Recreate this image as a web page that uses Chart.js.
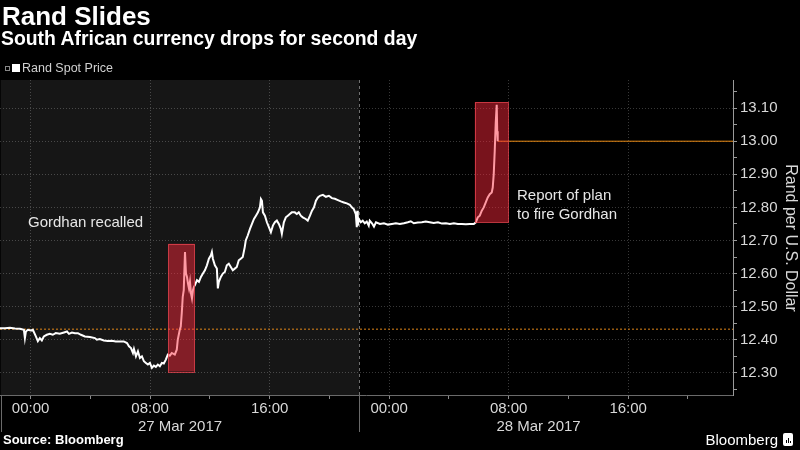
<!DOCTYPE html>
<html><head><meta charset="utf-8">
<script src="https://cdn.jsdelivr.net/npm/chart.js@4.4.1/dist/chart.umd.min.js"></script>
<style>
html,body{margin:0;padding:0;background:#000;width:800px;height:450px;overflow:hidden;}
#wrap{position:relative;width:800px;height:450px;}
canvas{position:absolute;left:0;top:0;}
.t{position:absolute;white-space:nowrap;font-family:'Liberation Sans',Arial,sans-serif;color:#fff;}
#title{left:2px;top:3px;font-size:26px;line-height:26px;font-weight:bold;}
#sub{left:1px;top:29px;font-size:19.4px;line-height:19px;font-weight:bold;}
#legend{left:5px;top:61px;font-size:12.5px;line-height:14px;color:#d0d0d0;}
#legend .ic{display:inline-block;width:3px;height:3px;border:1px solid #888;vertical-align:1px;margin-right:2px;}
#legend .sw{display:inline-block;width:8px;height:8px;background:#fff;vertical-align:0px;margin-right:2px;}
#src{left:3px;top:433px;font-size:13px;line-height:14px;font-weight:bold;}
#brand{right:22px;top:432px;font-size:15px;line-height:16px;}
#logo{position:absolute;left:783px;top:433px;width:10px;height:13px;background:#fff;border-radius:2px;}
#logo i{position:absolute;bottom:3px;width:1px;background:#000;}
</style></head>
<body><div id="wrap">
<canvas id="c" width="800" height="450"></canvas>
<div class="t" id="title">Rand Slides</div>
<div class="t" id="sub">South African currency drops for second day</div>
<div class="t" id="legend"><span class="ic"></span><span class="sw"></span>Rand Spot Price</div>
<div class="t" id="src">Source: Bloomberg</div>
<div class="t" id="brand">Bloomberg</div>
<div id="logo"><i style="left:3px;height:3px"></i><i style="left:5px;height:5px"></i><i style="left:7px;height:2px"></i></div>
</div>
<script>
// minutes since 27 Mar 2017 00:00 (chart's local time)
const minutes = [
 -123,-103,-83,-63,-43,-27,-23,-19,-11,1,
 9,21,29,37,45,53,65,77,89,101,
 117,134,146,154,166,178,190,202,218,238,
 258,266,278,294,310,326,342,358,374,387,
 395,403,411,415,423,431,439,447,455,463,
 471,479,487,495,503,511,519,527,535,543,
 551,559,567,579,587,591,599,603,607,611,
 615,620,624,628,632,636,640,644,648,652,
 656,660,668,676,684,692,700,708,716,724,
 728,732,740,748,752,756,764,772,780,788,
 796,804,812,820,828,836,844,852,860,864,
 872,881,889,897,905,913,921,925,929,933,
 941,949,957,965,973,981,989,997,1005,1009,
 1017,1025,1033,1041,1049,1061,1069,1077,1085,1093,
 1105,1113,1122,1130,1138,1146,1154,1162,1174,1186,
 1198,1210,1222,1234,1246,1258,1270,1282,1290,1298,
 1306,1310,1312,1314,1318,1326,1334,1342,1350,1358,
 1362,1371,1379,1387,1403,1419,1435,1451,1467,1483,
 1499,1515,1527,1539,1555,1571,1587,1603,1619,1636,
 1652,1668,1684,1700,1716,1732,1748,1764,1780,1788,
 1796,1804,1812,1820,1828,1836,1844,1852,1856,1860,
 1864,1868,1872,1874,1876
];
const rate = [
 12.435,12.435,12.436,12.434,12.433,12.430,12.405,12.425,12.430,12.428,
 12.430,12.410,12.396,12.405,12.398,12.410,12.415,12.418,12.415,12.420,
 12.418,12.422,12.425,12.418,12.422,12.420,12.420,12.415,12.410,12.408,
 12.405,12.400,12.402,12.398,12.396,12.397,12.395,12.395,12.395,12.390,
 12.380,12.375,12.360,12.372,12.350,12.365,12.345,12.350,12.335,12.330,
 12.325,12.330,12.315,12.322,12.318,12.325,12.320,12.330,12.328,12.340,
 12.355,12.352,12.360,12.355,12.370,12.400,12.430,12.440,12.480,12.530,
 12.550,12.665,12.600,12.590,12.570,12.555,12.575,12.540,12.525,12.550,
 12.560,12.565,12.580,12.575,12.590,12.600,12.610,12.625,12.645,12.655,
 12.665,12.645,12.625,12.615,12.555,12.575,12.590,12.600,12.605,12.625,
 12.630,12.620,12.610,12.615,12.620,12.640,12.645,12.650,12.680,12.700,
 12.715,12.735,12.750,12.765,12.775,12.785,12.800,12.825,12.820,12.785,
 12.775,12.755,12.740,12.725,12.745,12.755,12.760,12.750,12.735,12.720,
 12.755,12.770,12.775,12.780,12.785,12.785,12.780,12.785,12.775,12.770,
 12.765,12.760,12.775,12.790,12.800,12.820,12.830,12.835,12.838,12.832,
 12.835,12.828,12.826,12.822,12.818,12.815,12.812,12.808,12.800,12.795,
 12.780,12.740,12.790,12.745,12.765,12.755,12.760,12.752,12.757,12.745,
 12.760,12.752,12.742,12.755,12.750,12.752,12.748,12.750,12.752,12.750,
 12.752,12.755,12.758,12.752,12.754,12.755,12.757,12.755,12.753,12.755,
 12.751,12.752,12.750,12.752,12.750,12.750,12.749,12.750,12.750,12.755,
 12.770,12.775,12.790,12.800,12.815,12.830,12.840,12.845,12.860,12.900,
 12.970,13.055,13.110,13.030,13.000
];
const xTickMinutes = [0,240,480,720,960,1200,1440,1680,1920,2160,2400,2640];
const yTickValues = [12.25,12.30,12.35,12.40,12.45,12.50,12.55,12.60,12.65,12.70,12.75,12.80,12.85,12.90,12.95,13.00,13.05,13.10,13.15];
const dayStarts = [-120, 1320];
const dayEnds = [1320, 2760];
const dayLabels = ['27 Mar 2017', '28 Mar 2017'];
const lastPrice = 13.00;
const prevClose = 12.432;
const hlFrom = [553, 1784];
const hlTo = [659, 1918];
const hlLow = [12.304, 12.755];
const hlHigh = [12.690, 13.118];
const noteLines = [['Gordhan recalled'], ['Report of plan', 'to fire Gordhan']];

Chart.defaults.font.family = "'Liberation Sans', Arial, sans-serif";
Chart.defaults.font.size = 15;
Chart.defaults.color = '#d8d8d8';

const series = minutes.map((m, i) => ({x: m, y: rate[i]}));
const lastMin = minutes[minutes.length - 1];

const decor = {
  id: 'decor',
  beforeDraw(chart) {
    const {ctx, chartArea: a, scales: {x}} = chart;
    ctx.save();
    const x0 = Math.max(a.left, x.getPixelForValue(dayStarts[0]));
    const x1 = x.getPixelForValue(dayEnds[0]);
    ctx.fillStyle = '#161616';
    ctx.fillRect(x0, a.top, x1 - x0, a.bottom - a.top);
    ctx.restore();
  },
  beforeDatasetsDraw(chart) {
    const {ctx, chartArea: a, scales: {x}} = chart;
    ctx.save();
    ctx.lineWidth = 1;
    const xs = Math.round(x.getPixelForValue(dayStarts[1])) + 0.5;
    ctx.strokeStyle = '#707070';
    ctx.setLineDash([3, 3]);
    ctx.beginPath(); ctx.moveTo(xs, a.top); ctx.lineTo(xs, a.bottom); ctx.stroke();
    ctx.setLineDash([]);
    ctx.strokeStyle = '#6a6a6a';
    ctx.beginPath(); ctx.moveTo(xs, a.bottom); ctx.lineTo(xs, 432); ctx.stroke();
    const xl = Math.max(0.5, Math.round(x.getPixelForValue(dayStarts[0])) + 0.5);
    ctx.beginPath(); ctx.moveTo(xl, a.bottom); ctx.lineTo(xl, 432); ctx.stroke();
    ctx.strokeStyle = '#9a9a9a';
    ctx.beginPath(); ctx.moveTo(Math.round(a.right) + 0.5, a.top); ctx.lineTo(Math.round(a.right) + 0.5, a.bottom); ctx.stroke();
    ctx.strokeStyle = '#6a6a6a';
    ctx.beginPath(); ctx.moveTo(a.left, Math.round(a.bottom) - 0.5); ctx.lineTo(a.right, Math.round(a.bottom) - 0.5); ctx.stroke();
    ctx.restore();
  },
  afterDatasetsDraw(chart) {
    const {ctx, scales: {x, y}} = chart;
    ctx.save();
    for (let i = 0; i < hlFrom.length; i++) {
      const l = x.getPixelForValue(hlFrom[i]), r = x.getPixelForValue(hlTo[i]);
      const t = y.getPixelForValue(hlHigh[i]), b = y.getPixelForValue(hlLow[i]);
      ctx.fillStyle = 'rgba(255,40,60,0.47)';
      ctx.fillRect(l, t, r - l, b - t);
      ctx.strokeStyle = 'rgba(235,70,80,0.75)';
      ctx.lineWidth = 1;
      ctx.strokeRect(Math.round(l) + 0.5, Math.round(t) + 0.5, Math.round(r - l), Math.round(b - t));
    }
    ctx.restore();
  },
  afterDraw(chart) {
    const {ctx, scales: {x}} = chart;
    ctx.save();
    ctx.fillStyle = '#d8d8d8';
    ctx.font = "15px 'Liberation Sans', Arial, sans-serif";
    ctx.textAlign = 'center';
    ctx.textBaseline = 'middle';
    for (let i = 0; i < dayLabels.length; i++) {
      const c = (x.getPixelForValue(dayStarts[i]) + x.getPixelForValue(dayEnds[i])) / 2;
      ctx.fillText(dayLabels[i], c, 427);
    }
    ctx.textAlign = 'left';
    ctx.fillStyle = '#e6e6e6';
    ctx.fillText(noteLines[0][0], 28, 223);
    ctx.fillText(noteLines[1][0], 517, 196);
    ctx.fillText(noteLines[1][1], 517, 215);
    ctx.restore();
  }
};

new Chart(document.getElementById('c'), {
  type: 'line',
  data: {
    datasets: [
      {label: 'Rand Spot Price', data: series, borderColor: '#ffffff', borderWidth: 2,
       pointRadius: 0, tension: 0, order: 0},
      {label: 'Last', data: [{x: lastMin, y: lastPrice}, {x: 2821, y: lastPrice}],
       borderColor: 'rgb(235,140,20)', borderWidth: 1, pointRadius: 0, order: 1},
      {label: 'Prev', data: [{x: -123, y: prevClose}, {x: 2821, y: prevClose}],
       borderColor: 'rgb(225,135,25)', borderWidth: 1, borderDash: [2, 2], pointRadius: 0, order: 2}
    ]
  },
  options: {
    responsive: false,
    animation: false,
    devicePixelRatio: 1,
    layout: {padding: {top: 80, left: 0, right: 0, bottom: 0}},
    plugins: {legend: {display: false}, tooltip: {enabled: false}},
    scales: {
      x: {
        type: 'linear', min: -123, max: 2821,
        afterBuildTicks: s => { s.ticks = xTickMinutes.map(v => ({value: v})); },
        afterFit: s => { s.height = 54; },
        ticks: {
          autoSkip: false, maxRotation: 0, padding: 1, color: '#d8d8d8',
          callback: v => v % 480 === 0 ? String(Math.round((v / 60) % 24)).padStart(2, '0') + ':00' : ''
        },
        grid: {
          color: c => (c.tick && c.tick.value % 480 === 0) ? 'rgba(255,255,255,0.22)' : 'rgba(0,0,0,0)',
          tickColor: '#8a8a8a', tickLength: 3, lineWidth: 1
        },
        border: {display: false, dash: [1, 2]}
      },
      y: {
        type: 'linear', position: 'right', min: 12.23, max: 13.185,
        afterBuildTicks: s => { s.ticks = yTickValues.map(v => ({value: v})); },
        afterFit: s => { s.width = 67; },
        ticks: {
          autoSkip: false, padding: 3, color: '#d8d8d8',
          callback: v => Math.round(v * 100) % 10 === 0 ? v.toFixed(2) : ''
        },
        grid: {
          color: c => (c.tick && Math.round(c.tick.value * 100) % 10 === 0) ? 'rgba(255,255,255,0.22)' : 'rgba(0,0,0,0)',
          tickColor: '#9a9a9a', tickLength: 4, lineWidth: 1
        },
        border: {display: false, dash: [1, 2]},
        title: {display: true, text: 'Rand per U.S. Dollar', color: '#d8d8d8', font: {size: 16}, padding: 0}
      }
    }
  },
  plugins: [decor]
});
</script>
</body></html>
